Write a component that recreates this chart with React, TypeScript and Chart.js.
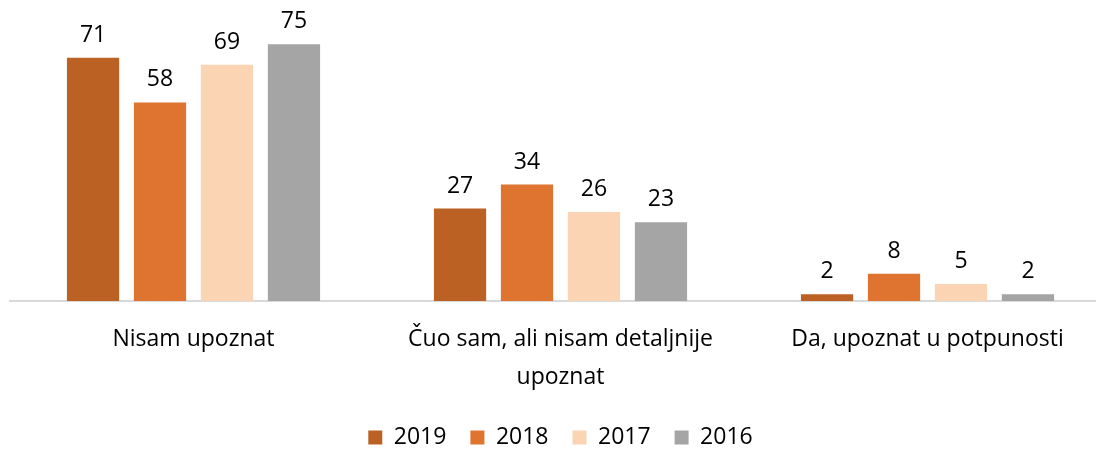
import React, { useEffect, useRef } from "react";
import { Chart, registerables } from "chart.js";

Chart.register(...registerables);

const categories: (string | string[])[] = [
  "Nisam upoznat",
  ["Čuo sam, ali nisam detaljnije", "upoznat"],
  "Da, upoznat u potpunosti",
];
const seriesNames = ["2019", "2018", "2017", "2016"];
const values2019 = [71, 27, 2];
const values2018 = [58, 34, 8];
const values2017 = [69, 26, 5];
const values2016 = [75, 23, 2];
const colors = ["#BB6124", "#DE7430", "#FBD4B4", "#A5A5A5"];

const FONT = "'Open Sans', sans-serif";

const labelPlugin = {
  id: "barValueLabels",
  afterDatasetsDraw(chart: any) {
    const ctx = chart.ctx;
    ctx.save();
    ctx.font = `23px ${FONT}`;
    ctx.fillStyle = "#000000";
    ctx.textAlign = "center";
    ctx.textBaseline = "bottom";
    chart.data.datasets.forEach((ds: any, i: number) => {
      const meta = chart.getDatasetMeta(i);
      meta.data.forEach((bar: any, j: number) => {
        ctx.fillText(String(ds.data[j]), bar.x, bar.y - 11);
      });
    });
    ctx.restore();
  },
};

export default function App() {
  const ref = useRef<HTMLCanvasElement | null>(null);
  useEffect(() => {
    if (!ref.current) return;
    const all = [values2019, values2018, values2017, values2016];
    const chart = new Chart(ref.current, {
      type: "bar",
      data: {
        labels: categories,
        datasets: all.map((d, i) => ({
          label: seriesNames[i],
          data: d,
          backgroundColor: colors[i],
          categoryPercentage: 0.73,
          barPercentage: 0.78,
        })),
      },
      options: {
        animation: false,
        responsive: false,
        maintainAspectRatio: false,
        layout: { padding: { left: 10, right: 9, top: 27, bottom: 0 } },
        scales: {
          x: {
            grid: { display: false, drawTicks: false },
            border: { display: true, color: "#D9D9D9", width: 2 },
            ticks: {
              color: "#000000",
              font: { family: FONT, size: 23, lineHeight: 1.65 },
              padding: 19,
              maxRotation: 0,
              autoSkip: false,
            },
            afterFit: (scale: any) => {
              scale.height -= 13;
            },
          },
          y: {
            display: false,
            min: 0,
            max: 80,
          },
        },
        plugins: {
          legend: {
            position: "bottom",
            labels: {
              color: "#000000",
              font: { family: FONT, size: 23 },
              boxWidth: 14,
              boxHeight: 14,
              padding: 24,
            },
          },
          tooltip: { enabled: false },
        },
      },
      plugins: [labelPlugin],
    });
    return () => chart.destroy();
  }, []);
  return (
    <div
      style={{
        position: "fixed",
        left: 0,
        top: 0,
        width: 1096,
        height: 449,
        overflow: "hidden",
        background: "#fff",
      }}
    >
      <canvas ref={ref} width={1120} height={459} style={{ display: "block" }} />
    </div>
  );
}
